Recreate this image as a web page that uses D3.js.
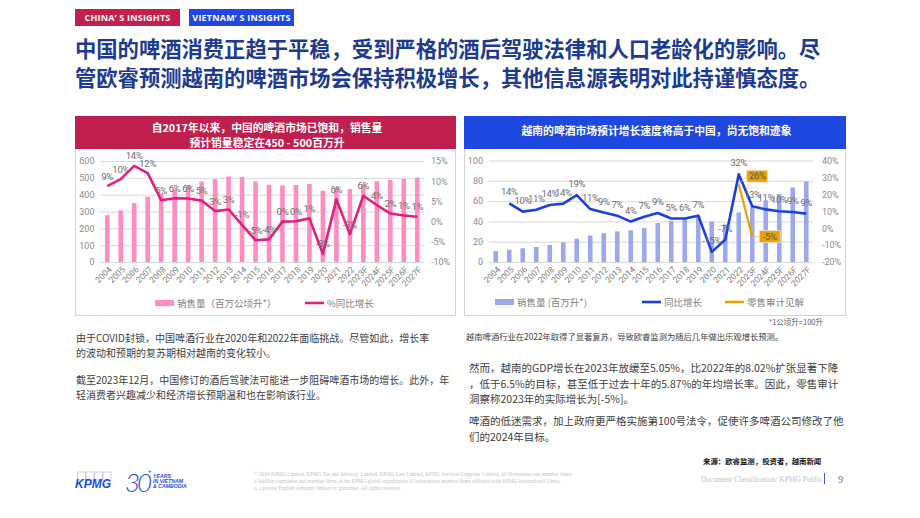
<!DOCTYPE html>
<html>
<head>
<meta charset="utf-8">
<script src="https://cdn.jsdelivr.net/npm/d3@7"></script>
<style>
  body { margin: 0; background: #fff; }
  svg { display: block; }
</style>
</head>
<body>
<svg id="slide" width="920" height="518"></svg>
<script>
// ---- data ----
var years = ["2004","2005","2006","2007","2008","2009","2010","2011","2012","2013","2014","2015",
             "2016","2017","2018","2019","2020","2021","2022","2023F","2024F","2025F","2026F","2027F"];

// China: volume (million hl) and y/y growth (%)
var cnVolume = [278,307,350,388,408,431,457,478,492,508,504,478,459,455,457,463,423,444,433,461,480,488,494,500];
var cnGrowth = [8.8,10.5,13.8,12,5.3,5.8,5.7,5.2,2.6,3,-0.8,-4.6,-4.4,0,0.1,0.8,-8,5.5,-3.1,6.4,4.1,2,1.5,1.2];
var cnGrowthLabels = ["9%","10%","14%","12%","5%","6%","6%","5%","3%","3%","-1%","-5%","-4%","0%","0%","1%",
                      "-8%","6%","-3%","6%","4%","2%","1%","1%"];
var cnLeftTicks = [0,100,200,300,400,500,600];
var cnRightTicks = [-10,-5,0,5,10,15];

// Vietnam: volume (million hl), y/y growth (%), retail audit view
var vnVolume = [10.8,12.1,13.5,14.8,16.7,19.4,23,26,28.3,30.2,31.2,33.4,38.4,40.5,42.6,45.5,40,37,48.9,54.8,60.7,66.9,73.4,79.3];
var vnGrowth = [null,14.6,9.8,10.9,13.7,14.5,19.5,11.3,9.2,7.4,3.9,6.8,9,5.7,5.7,7.4,-14,-6.8,31.8,12.9,11.1,10,9.6,8.6];
var vnGrowthLabels = ["","14%","10%","11%","14%","14%","19%","11%","9%","7%","4%","7%","9%","5%","6%","7%",
                      "-15%","-7%","32%","13%","11%","10%","9%","9%"];
var vnAuditYears = ["2022","2023F"];
var vnAudit = [26,-5];
var vnAuditLabels = ["26%","-5%"];
var vnLeftTicks = [0,20,40,60,80,100];
var vnRightTicks = [-20,-10,0,10,20,30,40];

var svg = d3.select("#slide");
var CJK = "'Noto Sans CJK SC', 'Noto Sans', sans-serif";
var NUM = "Roboto, 'Liberation Sans', sans-serif";
var SERIF = "'Liberation Serif', 'DejaVu Serif', serif";

// ---- header tags + title ----
function tag(x, w, color, label) {
  svg.append("rect").attr("x", x).attr("y", 9).attr("width", w).attr("height", 17).attr("fill", color);
  svg.append("text").attr("x", x + w / 2).attr("y", 21)
    .attr("text-anchor", "middle").attr("fill", "#fff")
    .style("font", "bold 9px 'Open Sans', sans-serif").style("letter-spacing", "0.2px")
    .text(label);
}
tag(75, 105, "#c41f4c", "CHINA’ S INSIGHTS");
tag(189, 105, "#1f48e3", "VIETNAM’ S INSIGHTS");

var titleLines = ["中国的啤酒消费正趋于平稳，受到严格的酒后驾驶法律和人口老龄化的影响。尽",
                  "管欧睿预测越南的啤酒市场会保持积极增长，其他信息源表明对此持谨慎态度。"];
svg.selectAll(".title").data(titleLines).enter().append("text")
  .attr("x", 75).attr("y", function (d, i) { return 57 + i * 29; })
  .attr("fill", "#1c3b90")
  .style("font-family", CJK).style("font-weight", 700).style("font-size", "21.3px")
  .text(function (d) { return d; });

// ---- panel frames ----
function panel(x, w, color, lines) {
  svg.append("rect").attr("x", x + 0.5).attr("y", 116.5).attr("width", w).attr("height", 199)
    .attr("fill", "none").attr("stroke", "#d4d4d4");
  svg.append("rect").attr("x", x).attr("y", 116).attr("width", w + 1).attr("height", 33).attr("fill", color);
  var base = lines.length > 1 ? 132 : 135;
  lines.forEach(function (t, i) {
    svg.append("text").attr("x", x + w / 2 + 2).attr("y", base + i * 14.5)
      .attr("text-anchor", "middle").attr("fill", "#fff")
      .style("font-family", CJK).style("font-weight", 700).style("font-size", "10.8px")
      .text(t);
  });
}
panel(75, 380, "#be1f4c", ["自2017年以来，中国的啤酒市场已饱和，销售量", "预计销量稳定在450 - 500百万升"]);
panel(464, 381, "#1f48e0", ["越南的啤酒市场预计增长速度将高于中国，尚无饱和迹象"]);

// ---- combo chart ----
function drawChart(o) {
  var g = svg.append("g");
  var x = d3.scaleBand().domain(years).range([o.x0, o.x1]);
  var cx = function (d) { return x(d) + x.bandwidth() / 2; };
  var yL = d3.scaleLinear().domain(d3.extent(o.leftTicks)).range([o.y0, o.y1]);
  var yR = d3.scaleLinear().domain(d3.extent(o.rightTicks)).range([o.y0, o.y1]);

  var axL = g.append("g").attr("transform", "translate(" + o.x0 + ",0)")
    .call(d3.axisLeft(yL).tickValues(o.leftTicks).tickSize(-(o.x1 - o.x0)).tickPadding(o.padL));
  axL.select(".domain").remove();
  axL.selectAll("line").attr("stroke", "#d9d9d9");
  axL.selectAll("text").attr("fill", "#8c8c8c").style("font", "9px " + NUM);

  var axR = g.append("g").attr("transform", "translate(" + o.x1 + ",0)")
    .call(d3.axisRight(yR).tickValues(o.rightTicks).tickSize(0).tickPadding(o.padR)
      .tickFormat(function (d) { return d + "%"; }));
  axR.select(".domain").remove();
  axR.selectAll("text").attr("fill", "#8c8c8c").style("font", "9px " + NUM);

  var axB = g.append("g").attr("transform", "translate(0," + o.y0 + ")")
    .call(d3.axisBottom(x).tickSize(0));
  axB.select(".domain").attr("stroke", "#d9d9d9");
  axB.selectAll("text")
    .attr("x", 0).attr("y", 0).attr("dy", "0.35em")
    .attr("text-anchor", "end")
    .attr("transform", "translate(3,6) rotate(-45)")
    .attr("fill", "#7f7f7f").style("font", "8.5px " + NUM);

  var bw = 4.6;
  g.selectAll(".bar").data(years).enter().append("rect")
    .attr("x", function (d) { return cx(d) - bw / 2; })
    .attr("y", function (d, i) { return yL(o.volume[i]); })
    .attr("width", bw)
    .attr("height", function (d, i) { return o.y0 - yL(o.volume[i]); })
    .attr("fill", o.barColor);

  var pts = years.map(function (d, i) { return { k: d, v: o.growth[i], t: o.labels[i] }; });
  var line = d3.line().defined(function (d) { return d.v != null; })
    .x(function (d) { return cx(d.k); }).y(function (d) { return yR(d.v); });
  g.append("path").datum(pts).attr("d", line)
    .attr("fill", "none").attr("stroke", o.lineColor).attr("stroke-width", 2.6)
    .attr("stroke-linejoin", "round");

  if (o.audit) {
    var ap = o.audit.years.map(function (d, i) { return { k: d, v: o.audit.values[i], t: o.audit.labels[i] }; });
    g.append("path").datum(ap).attr("d", line)
      .attr("fill", "none").attr("stroke", "#e8a400").attr("stroke-width", 2.2);
  }

  g.selectAll(".lbl").data(pts.filter(function (d) { return d.v != null; })).enter().append("text")
    .attr("x", function (d) { return cx(d.k); })
    .attr("y", function (d) { return yR(d.v) - o.labelGap; })
    .attr("text-anchor", "middle").attr("fill", "#6e6e6e")
    .style("font", "9.5px " + NUM).style("letter-spacing", "-0.3px")
    .text(function (d) { return d.t; });

  if (o.audit) {
    ap.forEach(function (d, i) {
      var px = cx(d.k), py = yR(d.v);
      var s = o.audit.shift[i];
      var bx = px + s[0], by = py + s[1];
      g.append("line").attr("x1", px).attr("y1", py).attr("x2", bx).attr("y2", by)
        .attr("stroke", "#bfbfbf").attr("stroke-width", 0.8);
      g.append("rect").attr("x", bx).attr("y", by - 6).attr("width", 21).attr("height", 12)
        .attr("fill", "#e8a300").attr("stroke", "#e6e6e6").attr("stroke-width", 0.8);
      g.append("text").attr("x", bx + 10.5).attr("y", by + 3.3).attr("text-anchor", "middle")
        .attr("fill", "#595959").style("font", "9.5px " + NUM).style("letter-spacing", "-0.3px")
        .text(d.t);
    });
  }

  // legend
  o.legend.forEach(function (it) {
    if (it.type === "bar") {
      g.append("rect").attr("x", it.x).attr("y", o.legendY - 3).attr("width", 19).attr("height", 6)
        .attr("fill", it.color);
    } else {
      g.append("line").attr("x1", it.x).attr("x2", it.x + 19)
        .attr("y1", o.legendY).attr("y2", o.legendY)
        .attr("stroke", it.color).attr("stroke-width", 2.6);
    }
    g.append("text").attr("x", it.x + 22).attr("y", o.legendY + 3.5)
      .attr("fill", "#7f7f7f").style("font-family", CJK).style("font-size", "9.5px")
      .text(it.label);
  });
}

drawChart({
  x0: 100.5, x1: 424, y0: 262, y1: 161, padL: 6, padR: 7, labelGap: 6.5,
  leftTicks: cnLeftTicks, rightTicks: cnRightTicks,
  volume: cnVolume, growth: cnGrowth, labels: cnGrowthLabels,
  barColor: "#ff8dbf", lineColor: "#e0207c",
  legendY: 303,
  legend: [
    { type: "bar", x: 155, color: "#ff8dbf", label: "销售量（百万公顷升*）" },
    { type: "line", x: 305, color: "#e0207c", label: "%同比增长" }
  ]
});

drawChart({
  x0: 489, x1: 813, y0: 262, y1: 160.5, padL: 6, padR: 9, labelGap: 8,
  leftTicks: vnLeftTicks, rightTicks: vnRightTicks,
  volume: vnVolume, growth: vnGrowth, labels: vnGrowthLabels,
  barColor: "#9da7ec", lineColor: "#1c3fe0",
  audit: { years: vnAuditYears, values: vnAudit, labels: vnAuditLabels, shift: [[8, -8], [7, 0]] },
  legendY: 302,
  legend: [
    { type: "bar", x: 495, color: "#9da7ec", label: "销售量 (百万升*)" },
    { type: "line", x: 642, color: "#1c3fe0", label: "同比增长" },
    { type: "line", x: 725, color: "#e8a400", label: "零售审计见解" }
  ]
});

// ---- commentary ----
var leftText = [
  ["由于COVID封锁，中国啤酒行业在2020年和2022年面临挑战。尽管如此，增长率", 341.5],
  ["的波动和预期的复苏期相对越南的变化较小。", 356.5],
  ["截至2023年12月，中国修订的酒后驾驶法可能进一步阻碍啤酒市场的增长。此外，年", 383.5],
  ["轻消费者兴趣减少和经济增长预期温和也在影响该行业。", 398.5]
];
leftText.forEach(function (d) {
  svg.append("text").attr("x", 76).attr("y", d[1]).attr("fill", "#404040")
    .style("font-family", CJK).style("font-size", "10px").text(d[0]);
});

svg.append("text").attr("x", 823).attr("y", 325).attr("text-anchor", "end").attr("fill", "#595959")
  .style("font-family", CJK).style("font-size", "7.5px").text("*1公顷升=100升");
svg.append("text").attr("x", 466).attr("y", 340).attr("fill", "#404040")
  .style("font-family", CJK).style("font-size", "8.3px")
  .text("越南啤酒行业在2022年取得了显著复苏，导致欧睿监测为随后几年做出乐观增长预测。");

var rightText = [
  ["然而，越南的GDP增长在2023年放缓至5.05%，比2022年的8.02%扩张显著下降", 372],
  ["，低于6.5%的目标，甚至低于过去十年的5.87%的年均增长率。因此，零售审计", 387.5],
  ["洞察称2023年的实际增长为[-5%]。", 403],
  ["啤酒的低迷需求，加上政府更严格实施第100号法令，促使许多啤酒公司修改了他", 425],
  ["们的2024年目标。", 440.5]
];
rightText.forEach(function (d) {
  svg.append("text").attr("x", 469).attr("y", d[1]).attr("fill", "#404040")
    .style("font-family", CJK).style("font-size", "10.5px").text(d[0]);
});

svg.append("text").attr("x", 703).attr("y", 464).attr("fill", "#111")
  .style("font-family", CJK).style("font-weight", 700).style("font-size", "7.4px")
  .text("来源：欧睿监测，投资者，越南新闻");

// ---- footer ----
[0, 1, 2, 3].forEach(function (i) {
  svg.append("rect").attr("x", 77.5 + i * 8.5).attr("y", 472).attr("width", 8).attr("height", 8)
    .attr("fill", "none").attr("stroke", "#b9c4e8").attr("stroke-width", 0.8);
});
svg.append("text").attr("x", 75).attr("y", 488).attr("fill", "#1e49e2")
  .style("font", "italic 900 12px 'Liberation Sans', sans-serif").text("KPMG");

svg.append("text").attr("x", 125).attr("y", 492).attr("fill", "#2a4ee0")
  .style("font", "italic 300 26px Lato, sans-serif").style("letter-spacing", "-3px").text("30");
svg.append("text").attr("x", 148).attr("y", 473).attr("fill", "#2a4ee0")
  .style("font", "bold 6px 'Liberation Sans', sans-serif").text("+");
[["YEARS", 478], ["IN VIETNAM", 483], ["& CAMBODIA", 488]].forEach(function (d) {
  svg.append("text").attr("x", 153).attr("y", d[1]).attr("fill", "#2a4ee0")
    .style("font", "italic bold 5.2px 'Liberation Sans', sans-serif").text(d[0]);
});

var legal = [
  "© 2024 KPMG Limited, KPMG Tax and Advisory Limited, KPMG Law Limited, KPMG Services Company Limited, all Vietnamese one member limite",
  "d liability companies and member firms of the KPMG global organization of independent member firms affiliated with KPMG International Limite",
  "d, a private English company limited by guarantee. All rights reserved."
];
legal.forEach(function (t, i) {
  svg.append("text").attr("x", 254).attr("y", 476 + i * 7).attr("fill", "#c4c4c4")
    .style("font-family", SERIF).style("font-size", "5.2px").text(t);
});

svg.append("text").attr("x", 822).attr("y", 482).attr("text-anchor", "end").attr("fill", "#c4c4c4")
  .style("font-family", SERIF).style("font-size", "7.5px").text("Document Classification: KPMG Public");
svg.append("rect").attr("x", 824).attr("y", 473).attr("width", 1).attr("height", 11).attr("fill", "#3656e0");
svg.append("text").attr("x", 838).attr("y", 483).attr("fill", "#5670b8")
  .style("font-family", SERIF).style("font-size", "10px").text("9");
</script>
</body>
</html>
